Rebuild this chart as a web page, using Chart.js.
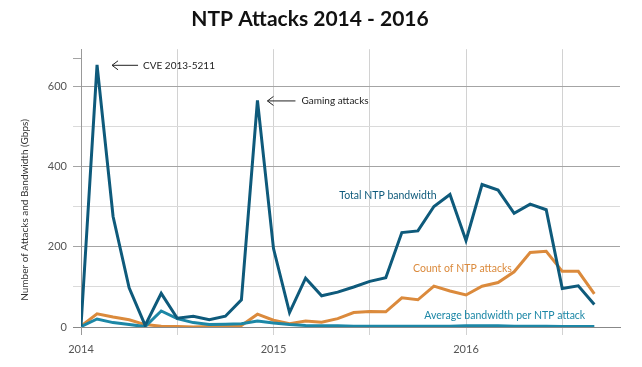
<!DOCTYPE html>
<html>
<head>
<meta charset="utf-8">
<script src="https://cdn.jsdelivr.net/npm/chart.js@4"></script>
<style>
  html, body { margin: 0; padding: 0; background: #fff; }
</style>
</head>
<body>
<canvas id="ntpChart" width="642" height="367"></canvas>
<script>
// monthly points, Jan 2014 - Sep 2016
const months = [
  'Jan 2014', 'Feb 2014', 'Mar 2014', 'Apr 2014', 'May 2014', 'Jun 2014',
  'Jul 2014', 'Aug 2014', 'Sep 2014', 'Oct 2014', 'Nov 2014', 'Dec 2014',
  'Jan 2015', 'Feb 2015', 'Mar 2015', 'Apr 2015', 'May 2015', 'Jun 2015',
  'Jul 2015', 'Aug 2015', 'Sep 2015', 'Oct 2015', 'Nov 2015', 'Dec 2015',
  'Jan 2016', 'Feb 2016', 'Mar 2016', 'Apr 2016', 'May 2016', 'Jun 2016',
  'Jul 2016', 'Aug 2016', 'Sep 2016'
];
const totalBandwidth = [2, 655, 276, 98, 4, 84, 22, 27, 18, 27, 68, 566, 196, 36, 122, 78, 87, 100, 114, 123, 236, 240, 301, 331, 216, 356, 342, 284, 307, 293, 96, 103, 56];
const attackCount = [2, 33, 25, 18, 6, 2, 1, 0, 1, 2, 4, 32, 17, 8, 15, 12, 21, 36, 39, 38, 73, 68, 102, 90, 80, 102, 111, 138, 186, 189, 139, 139, 83];
const avgBandwidth = [1, 20, 11, 6, 1, 40, 21, 11, 6, 7, 8, 15, 10, 6, 4, 3, 3, 2, 2, 2, 2, 2, 2, 2, 3, 3, 3, 2, 2, 2, 1, 1, 1];

const xTickPos = [0, 6, 12, 18, 24, 30];
const xTickText = ['2014', '', '2015', '', '2016', ''];
const yTickPos = [0, 100, 200, 300, 400, 500, 600];
const yTickText = ['0', '', '200', '', '400', '', '600'];

const DARK = '#0e5a7b';
const TEAL = '#1c87a6';
const ORANGE = '#db8a3c';
const FONT = 'Lato, "Open Sans", sans-serif';

// callouts and series labels, anchored in data coordinates
const callouts = [
  { text: 'CVE 2013-5211', idx: 1, series: totalBandwidth, head: 15, tail: 41, gap: 5 },
  { text: 'Gaming attacks', idx: 11, series: totalBandwidth, head: 10, tail: 38, gap: 6 }
];
const seriesLabels = [
  { text: 'Total NTP bandwidth', x: 16.1, y: 329, color: DARK },
  { text: 'Count of NTP attacks', x: 20.7, y: 147, color: ORANGE },
  { text: 'Average bandwidth per NTP attack', x: 21.4, y: 29, color: TEAL }
];

const toXY = arr => arr.map((v, i) => ({ x: i, y: v }));

const textPlugin = {
  id: 'textPlugin',
  afterDatasetsDraw(chart) {
    const ctx = chart.ctx;
    const xs = chart.scales.x, ys = chart.scales.y;
    ctx.save();
    ctx.textBaseline = 'middle';
    ctx.textAlign = 'left';

    // arrows + notes
    ctx.font = '10px ' + FONT;
    callouts.forEach(c => {
      const px = xs.getPixelForValue(c.idx);
      const py = ys.getPixelForValue(c.series[c.idx]) + 0.5;
      const hx = px + c.head, tx = px + c.tail;
      ctx.strokeStyle = '#222';
      ctx.lineWidth = 1;
      ctx.beginPath();
      ctx.moveTo(tx, py); ctx.lineTo(hx, py);
      ctx.moveTo(hx + 6, py - 4.5); ctx.lineTo(hx, py); ctx.lineTo(hx + 6, py + 4.5);
      ctx.stroke();
      ctx.fillStyle = '#222';
      ctx.fillText(c.text, tx + c.gap, py);
    });

    ctx.font = '10.5px ' + FONT;
    seriesLabels.forEach(l => {
      ctx.fillStyle = l.color;
      ctx.fillText(l.text, xs.getPixelForValue(l.x), ys.getPixelForValue(l.y));
    });

    // y axis title
    ctx.translate(25, 210);
    ctx.rotate(-Math.PI / 2);
    ctx.textAlign = 'center';
    ctx.font = '10px ' + FONT;
    ctx.fillStyle = '#333';
    ctx.fillText('Number of Attacks and Bandwidth (Gbps)', 0, 0);
    ctx.restore();
  }
};

new Chart(document.getElementById('ntpChart'), {
  type: 'line',
  data: {
    labels: months,
    datasets: [
      { label: 'Total NTP bandwidth', data: toXY(totalBandwidth), borderColor: DARK },
      { label: 'Average bandwidth per NTP attack', data: toXY(avgBandwidth), borderColor: TEAL },
      { label: 'Count of NTP attacks', data: toXY(attackCount), borderColor: ORANGE }
    ]
  },
  options: {
    responsive: false,
    animation: false,
    layout: { padding: { left: 0, right: 22, top: 0, bottom: 0 } },
    elements: {
      line: { borderWidth: 3, tension: 0, fill: false },
      point: { radius: 0 }
    },
    plugins: {
      legend: { display: false },
      tooltip: { enabled: false },
      title: {
        display: true,
        text: 'NTP Attacks 2014 - 2016',
        color: '#111',
        font: { family: FONT, size: 21, weight: 'bold' },
        padding: { top: 7, bottom: 17 }
      }
    },
    scales: {
      x: {
        type: 'linear',
        min: 0,
        max: 33.6,
        afterBuildTicks: s => { s.ticks = xTickPos.map(v => ({ value: v })); },
        afterFit: s => { s.height = 40; },
        border: { display: true, color: '#888' },
        grid: {
          color: c => (c.tick && c.tick.value === 0) ? 'rgba(0,0,0,0)' : '#d2d2d2',
          tickColor: c => (c.tick && c.tick.value === 0) ? '#999' : '#d2d2d2',
          tickLength: 8
        },
        ticks: {
          autoSkip: false,
          maxRotation: 0,
          padding: 8,
          color: '#555',
          font: { family: FONT, size: 11 },
          callback: (v, i) => xTickText[i]
        }
      },
      y: {
        min: 0,
        max: 694,
        afterBuildTicks: s => { s.ticks = yTickPos.concat([672]).map(v => ({ value: v })); },
        afterFit: s => { s.width = 81; },
        border: { display: true, color: '#999' },
        grid: {
          color: c => {
            const v = c.tick ? c.tick.value : 0;
            if (v === 0) return '#888';
            if (v === 672) return 'rgba(0,0,0,0)';
            return v % 200 === 0 ? '#a4a4a4' : '#dadada';
          },
          tickColor: c => {
            const v = c.tick ? c.tick.value : 0;
            if (v === 0) return '#888';
            return v % 200 === 0 || v === 672 ? '#a4a4a4' : '#dadada';
          },
          tickLength: 8
        },
        ticks: {
          padding: 6,
          color: '#555',
          font: { family: FONT, size: 11 },
          callback: (v, i) => i < yTickText.length ? yTickText[i] : ''
        }
      }
    }
  },
  plugins: [textPlugin]
});
</script>
</body>
</html>
